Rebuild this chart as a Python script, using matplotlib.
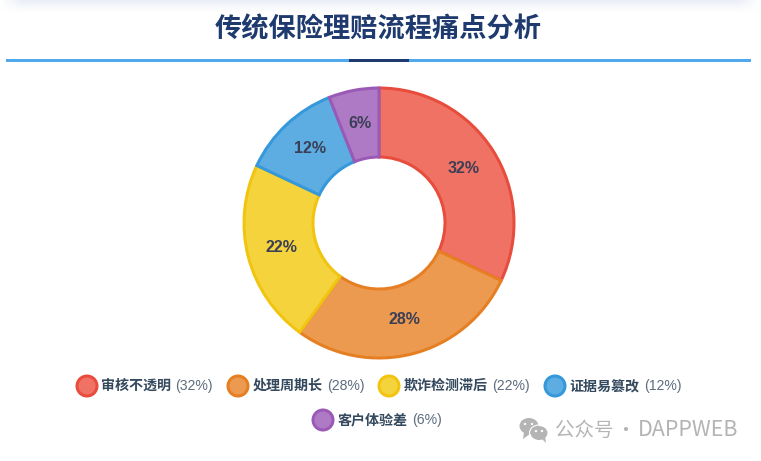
import numpy as np
import matplotlib
matplotlib.use("Agg")
import matplotlib.pyplot as plt
from matplotlib.patches import Circle, Ellipse, Rectangle, Polygon

title = "传统保险理赔流程痛点分析"
categories = ["审核不透明", "处理周期长", "欺诈检测滞后", "证据易篡改", "客户体验差"]
values = [32, 28, 22, 12, 6]
edge_colors = ["#e74c3c", "#e67e22", "#f1c40f", "#3498db", "#9b59b6"]
fill_colors = ["#ef7264", "#ec9a50", "#f5d33d", "#5dade2", "#af7ac5"]
watermark_cn = "公众号"
watermark_en = "DAPPWEB"

W, H = 761, 461
CJK = ["Liberation Sans", "Noto Sans CJK SC", "DejaVu Sans"]
plt.rcParams["font.family"] = CJK

fig = plt.figure(figsize=(W / 100, H / 100), dpi=100, facecolor="white")
ax = fig.add_axes([0, 0, 1, 1])


def Y(y):
    return H - y


def px(p):
    return p * 0.72


wedges, _, autotexts = ax.pie(
    values,
    colors=fill_colors,
    startangle=90,
    counterclock=False,
    radius=135,
    center=(379, Y(223)),
    autopct="%d%%",
    pctdistance=0.745,
    frame=True,
    wedgeprops=dict(width=69, linewidth=px(3)),
    textprops=dict(fontsize=px(16), fontweight="bold", color="#3a3f55"),
)
for w, c in zip(wedges, edge_colors):
    w.set_edgecolor(c)
    w.set_joinstyle("miter")
for t in autotexts:
    x0, y0 = t.get_position()
    t.set_position((x0, y0 + 1))

ax.axis("off")

# soft shadow along the top edge, fading downward and towards both sides
ny, nx = 14, 761
yy = np.linspace(1, 0, ny)[:, None]
xx = np.clip(np.minimum(np.arange(nx), nx - 1 - np.arange(nx)) / 22, 0, 1)[None, :]
band = np.zeros((ny, nx, 4))
band[..., 0], band[..., 1], band[..., 2] = 0.925, 0.935, 0.97
band[..., 3] = (yy ** 1.3) * xx
ax.imshow(band, extent=(0, W, Y(14), Y(0)), aspect="auto", zorder=0, interpolation="bilinear")
ax.set_xlim(0, W)
ax.set_ylim(0, H)
ax.set_aspect("auto")

ax.text(378.5, Y(30), title, ha="center", va="center", fontsize=px(27.2),
        fontweight="bold", color="#1f3a6e")
ax.add_patch(Rectangle((6, Y(62)), 745, 3, color="#4fa9ec", lw=0))
ax.add_patch(Rectangle((349, Y(62)), 60, 3, color="#1f3a6e", lw=0, zorder=3))

legend_pos = [(87, 386), (238, 386), (389, 386), (555, 386), (323, 420)]
pct_x = [175, 327, 492, 644, 412]
for cat, v, f, e, (x, y), tx in zip(categories, values, fill_colors, edge_colors, legend_pos, pct_x):
    ax.add_patch(Circle((x, Y(y)), 10, facecolor=f, edgecolor=e, lw=px(3)))
    ax.text(x + 14.5, Y(y), cat, ha="left", va="center", fontsize=px(14),
            fontweight="bold", color="#34495e")
    ax.text(tx, Y(y), f"({v}%)", ha="left", va="center", fontsize=px(14), color="#5d6d7e")

# watermark
g = "#b4b4b4"
ax.add_patch(Ellipse((529, Y(426)), 19, 16, color=g, lw=0))
ax.add_patch(Polygon([(524, Y(432)), (523, Y(439)), (530, Y(434))], color=g, lw=0))
ax.add_patch(Ellipse((539, Y(433)), 17, 14, color=g, lw=0))
ax.add_patch(Ellipse((539, Y(433)), 19, 16, fill=False, ec="white", lw=0.8))
ax.add_patch(Polygon([(541, Y(438)), (546, Y(443)), (545, Y(436))], color=g, lw=0))
for (cx, cy) in [(525, 424), (532, 424), (536, 431), (542, 431)]:
    ax.add_patch(Circle((cx, Y(cy)), 1.2, color="white", lw=0))
wm_font = ["Noto Sans CJK SC", "DejaVu Sans"]
ax.text(555, Y(430), watermark_cn, ha="left", va="center", fontsize=px(19.5), color=g, family=wm_font)
ax.text(625, Y(430), "·", ha="center", va="center", fontsize=px(20), color=g, family=wm_font)
ax.text(638, Y(430), watermark_en, ha="left", va="center", fontsize=px(21.5), color=g, family=wm_font)

fig.savefig("out.png", dpi=100)
